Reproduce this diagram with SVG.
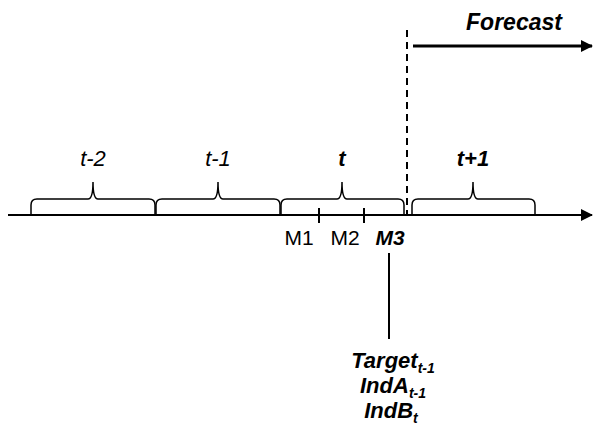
<svg xmlns="http://www.w3.org/2000/svg" width="593" height="430" viewBox="0 0 593 430">
<defs>
<style>
.ln{stroke:#000;fill:none;stroke-width:2}
.br{stroke:#000;fill:none;stroke-width:1.5}
text{font-family:"Liberation Sans",Arial,sans-serif;fill:#000}
.lb{font-size:22px;font-style:italic;text-anchor:middle}
.bi{font-weight:bold;font-style:italic}
.m{font-size:21px;text-anchor:middle}
.sub{font-size:14px}
.v{font-size:22px;text-anchor:middle}
</style>
<marker id="ah" markerWidth="12" markerHeight="12" refX="11" refY="6" orient="auto" markerUnits="userSpaceOnUse">
<path d="M0,0 L12,6 L0,12 Z" fill="#000"/>
</marker>
</defs>
<g id="connectors">
<line class="ln" x1="8" y1="215" x2="592" y2="215" marker-end="url(#ah)"/>
<line class="ln" x1="407" y1="30" x2="407" y2="215" stroke-dasharray="7,5"/>
<line x1="413" y1="46" x2="592" y2="46" stroke="#000" stroke-width="3" marker-end="url(#ah)"/>
<line class="ln" x1="319" y1="208" x2="319" y2="223"/>
<line class="ln" x1="364" y1="208" x2="364" y2="223"/>
<line class="ln" x1="389" y1="253" x2="389" y2="339"/>
</g>
<g id="brace-t-2">
<path class="br" d="M31,215 L31,205 Q31,199 37,199 L88,199 Q93,199 93,182 Q93,199 98,199 L149,199 Q155,199 155,205 L155,215"/>
<text class="lb" x="93" y="166">t-2</text>
</g>
<g id="brace-t-1">
<path class="br" d="M156,215 L156,205 Q156,199 162,199 L213,199 Q218,199 218,182 Q218,199 223,199 L274,199 Q280,199 280,205 L280,215"/>
<text class="lb" x="218" y="166">t-1</text>
</g>
<g id="brace-t">
<path class="br" d="M281,215 L281,205 Q281,199 287,199 L337,199 Q342,199 342,182 Q342,199 347,199 L398,199 Q404,199 404,205 L404,215"/>
<text class="lb bi" x="342" y="166">t</text>
</g>
<g id="brace-t1">
<path class="br" d="M412,215 L412,205 Q412,199 418,199 L468,199 Q473,199 473,182 Q473,199 478,199 L529,199 Q535,199 535,205 L535,215"/>
<text class="lb bi" x="473" y="166">t+1</text>
</g>
<g id="forecast">
<text class="bi" x="514" y="30" font-size="23" text-anchor="middle">Forecast</text>
</g>
<g id="months">
<text class="m" x="299" y="245">M1</text>
<text class="m" x="345" y="245">M2</text>
<text class="m bi" x="390" y="245">M3</text>
</g>
<g id="vars">
<text class="bi v" x="393" y="368">Target<tspan class="sub" dy="5">t-1</tspan></text>
<text class="bi v" x="393" y="393">IndA<tspan class="sub" dy="5">t-1</tspan></text>
<text class="bi v" x="391" y="418">IndB<tspan class="sub" dy="5">t</tspan></text>
</g>
</svg>
